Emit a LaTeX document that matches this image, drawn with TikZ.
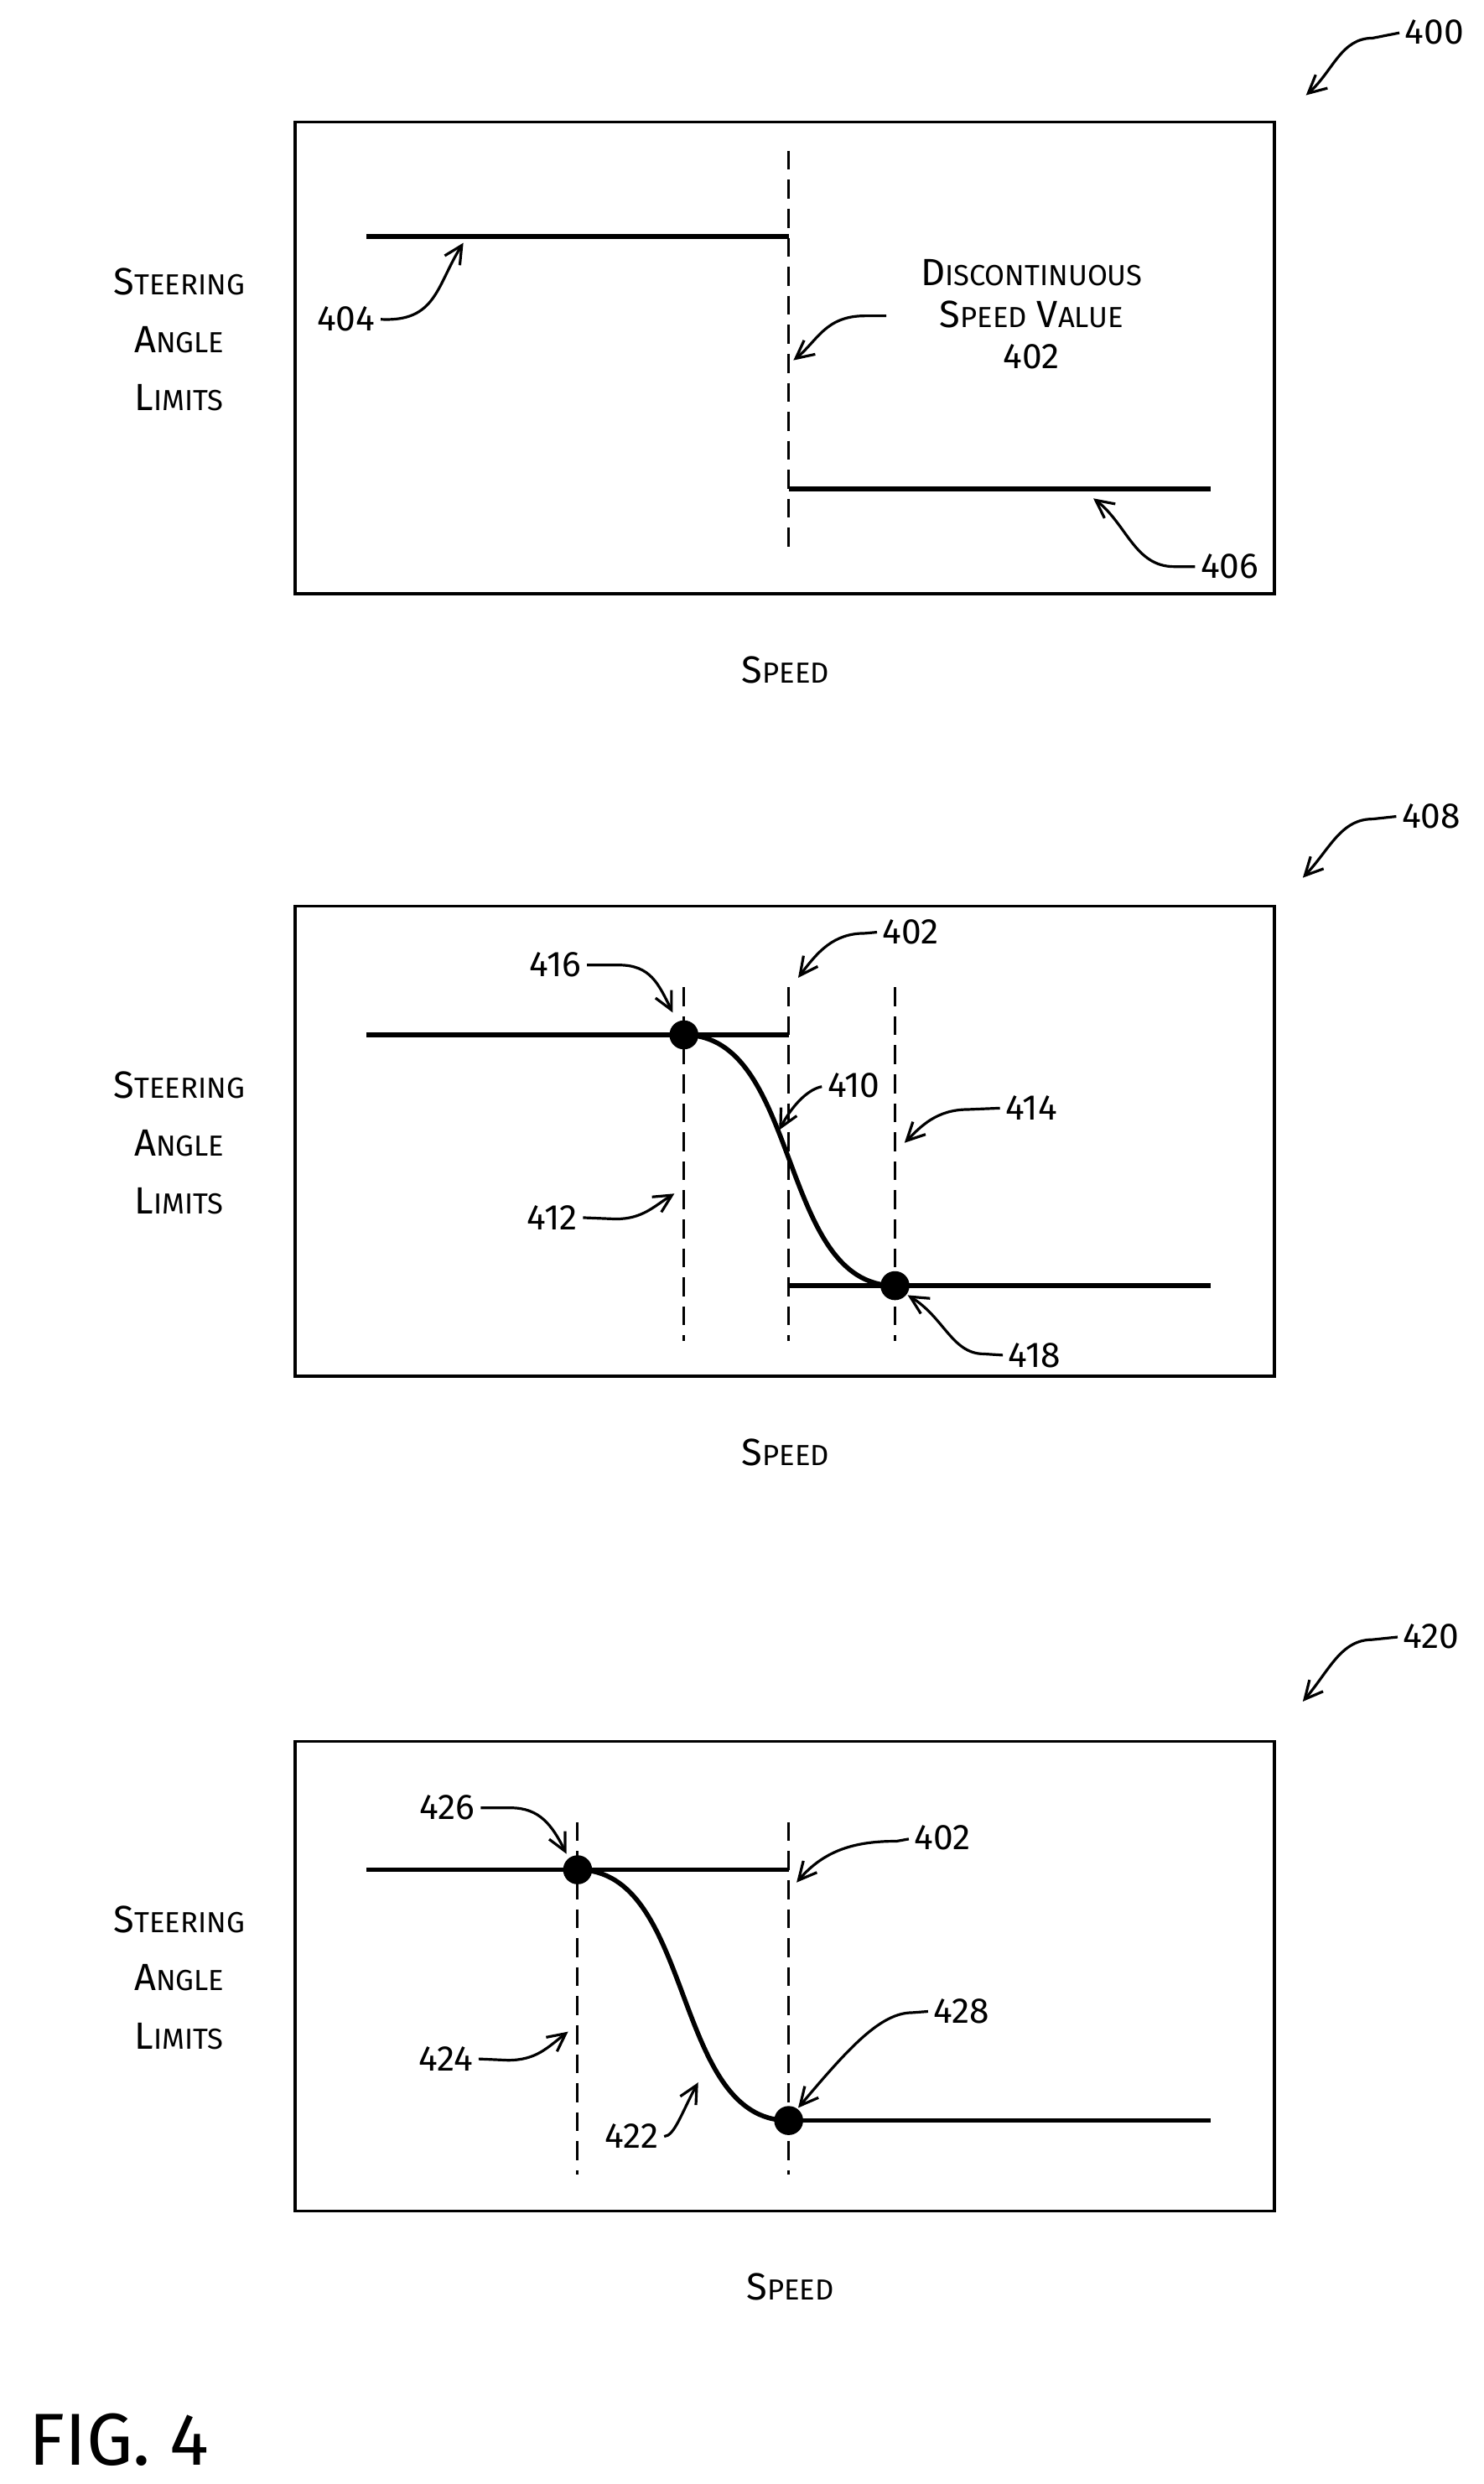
\documentclass[tikz,border=0pt]{standalone}
\usepackage{fontspec}
\setmainfont{Fira Sans}
\usetikzlibrary{arrows.meta}
\newcommand{\Sc}[2]{{\fontsize{34}{40}\selectfont #1}{\fontsize{26}{30}\selectfont #2}}
\begin{document}
\begin{tikzpicture}[x=0.05cm,y=-0.05cm,
  box/.style={line width=2.6pt},
  main/.style={line width=4.2pt},
  dsh/.style={line width=2.2pt,dash pattern=on 17pt off 9pt},
  lead/.style={line width=2.4pt,shorten <=5pt,-{Straight Barb[length=16pt,width=16pt,line width=2.4pt]}},
  lab/.style={font=\fontsize{32}{38}\selectfont,inner sep=0pt},
  ttl/.style={align=center,inner sep=0pt,font=\fontsize{34}{52}\selectfont},
  ttl2/.style={align=center,inner sep=0pt,font=\fontsize{34}{37}\selectfont},
  dot/.style={circle,fill=black,inner sep=0pt,minimum size=26pt}]
\useasboundingbox (0,0) rectangle (935,1565);
% ---------- Panel 1
\draw[box] (186,77) rectangle (803,374);
\coordinate (a1) at (231,149); \coordinate (a2) at (497,149);
\coordinate (b1) at (497,308); \coordinate (b2) at (763,308);
\draw[main] (a1)--(a2); \draw[main] (b1)--(b2);
\coordinate (d1t) at (497,95); \coordinate (d1b) at (497,345);
\draw[dsh] (d1t)--(d1b);
\node[ttl] (y1) at (113,214) {\Sc{S}{TEERING}\\\Sc{A}{NGLE}\\\Sc{L}{IMITS}};
\node[ttl] (x1) at (495,422) {\Sc{S}{PEED}};
\node[ttl2] (t402) at (650,198) {\Sc{D}{ISCONTINUOUS}\\\Sc{S}{PEED}\ \Sc{V}{ALUE}\\{\fontsize{32}{38}\selectfont 402}};
\node[lab] (n404) at (218,201) {404};
\node[lab] (n406) at (775,357) {406};
\node[lab] (n400) at (904,20) {400};
\coordinate (p404) at (292,153); \coordinate (p402) at (500,227);
\coordinate (p406) at (689,314); \coordinate (p400) at (823,60);
\draw[lead] (n404.east) .. controls (275,203) and (275,180) .. (p404);
\draw[lead] (562,199) -- (545,199) .. controls (520,199) and (515,215) .. (p402);
\draw[lead] (n406.west) -- (740,357) .. controls (715,357) and (710,330) .. (p406);
\draw[lead] (n400.west) -- (865,24) .. controls (845,24) and (840,45) .. (p400);
% ---------- Panel 2
\draw[box] (186,571) rectangle (803,867);
\coordinate (c1) at (231,652); \coordinate (c2) at (497,652);
\coordinate (e1) at (497,810); \coordinate (e2) at (763,810);
\draw[main] (c1)--(c2); \draw[main] (e1)--(e2);
\draw[dsh] (431,622)--(431,845);
\draw[dsh] (497,622)--(497,845);
\draw[dsh] (564,622)--(564,845);
\node[dot] (k416) at (431,652) {};
\node[dot] (k418) at (564,810) {};
\draw[main] (k416.center) .. controls (505,652) and (490,810) .. (k418.center);
\node[ttl] (y2) at (113,720) {\Sc{S}{TEERING}\\\Sc{A}{NGLE}\\\Sc{L}{IMITS}};
\node[ttl] (x2) at (495,915) {\Sc{S}{PEED}};
\node[lab] (n416) at (350,608) {416};
\node[lab] (n402b) at (574,587) {402};
\node[lab] (n410) at (538,684) {410};
\node[lab] (n414) at (650,698) {414};
\node[lab] (n412) at (348,767) {412};
\node[lab] (n418) at (652,854) {418};
\node[lab] (n408) at (902,514) {408};
\draw[lead] (n416.east) -- (390,608) .. controls (410,608) and (415,620) .. (424,638);
\draw[lead] (n402b.west) -- (545,588) .. controls (525,588) and (515,600) .. (503,616);
\draw[lead] (n410.west) .. controls (510,686) and (500,695) .. (491,712);
\draw[lead] (n414.west) -- (610,699) .. controls (590,699) and (580,710) .. (570,720);
\draw[lead] (n412.east) -- (388,768) .. controls (405,768) and (412,760) .. (425,752);
\draw[lead] (n418.west) -- (620,853) .. controls (600,853) and (595,830) .. (572,816);
\draw[lead] (n408.west) -- (865,516) .. controls (845,516) and (838,535) .. (821,553);
% ---------- Panel 3
\draw[box] (186,1097) rectangle (803,1393);
\coordinate (f1) at (231,1178); \coordinate (f2) at (497,1178);
\coordinate (g1) at (497,1336); \coordinate (g2) at (763,1336);
\draw[main] (f1)--(f2); \draw[main] (g1)--(g2);
\draw[dsh] (364,1148)--(364,1370);
\draw[dsh] (497,1148)--(497,1370);
\node[dot] (k426) at (364,1178) {};
\node[dot] (k428) at (497,1336) {};
\draw[main] (k426.center) .. controls (438,1178) and (423,1336) .. (k428.center);
\node[ttl] (y3) at (113,1246) {\Sc{S}{TEERING}\\\Sc{A}{NGLE}\\\Sc{L}{IMITS}};
\node[ttl] (x3) at (498,1441) {\Sc{S}{PEED}};
\node[lab] (n426) at (282,1139) {426};
\node[lab] (n402c) at (594,1158) {402};
\node[lab] (n424) at (281,1297) {424};
\node[lab] (n428) at (606,1267) {428};
\node[lab] (n422) at (398,1346) {422};
\node[lab] (n420) at (902,1031) {420};
\draw[lead] (n426.east) -- (322,1139) .. controls (340,1139) and (348,1150) .. (357,1168);
\draw[lead] (n402c.west) -- (565,1160) .. controls (540,1160) and (520,1165) .. (502,1186);
\draw[lead] (n424.east) -- (320,1298) .. controls (338,1298) and (345,1290) .. (358,1280);
\draw[lead] (n428.west) -- (575,1268) .. controls (555,1268) and (535,1290) .. (503,1328);
\draw[lead] (n422.east) .. controls (425,1346) and (430,1330) .. (440,1312);
\draw[lead] (n420.west) -- (865,1033) .. controls (845,1033) and (838,1052) .. (821,1072);
% ---------- Figure label
\node[inner sep=0pt,font=\fontsize{66}{70}\selectfont] (fig) at (75,1537) {FIG. 4};
\end{tikzpicture}
\end{document}
